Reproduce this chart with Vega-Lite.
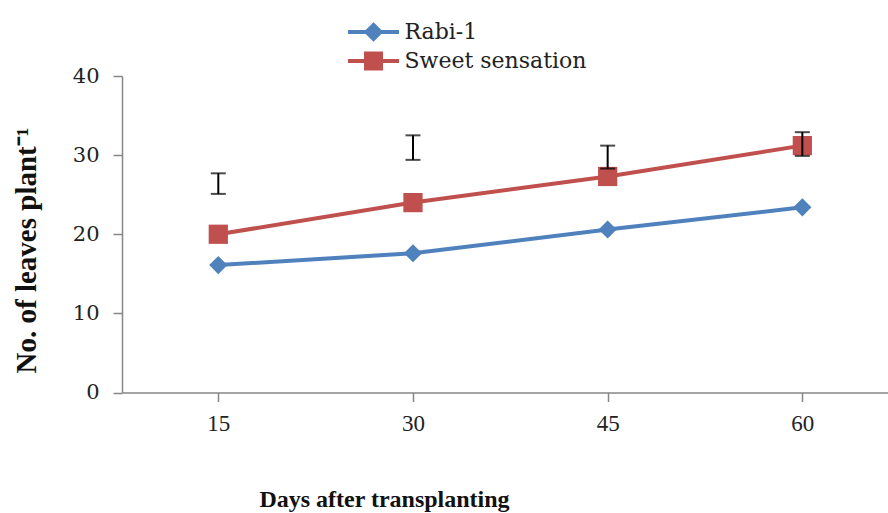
{
  "$schema": "https://vega.github.io/schema/vega-lite/v6.json",
  "autosize": {"type": "none"},
  "padding": {"left": 122, "top": 76, "right": 0, "bottom": 121},
  "width": 766,
  "height": 316.5,
  "background": "white",
  "datasets": {
    "leaves": [
      {"day": 15, "variety": "Rabi-1", "leaves": 16.1},
      {"day": 30, "variety": "Rabi-1", "leaves": 17.6},
      {"day": 45, "variety": "Rabi-1", "leaves": 20.6},
      {"day": 60, "variety": "Rabi-1", "leaves": 23.4},
      {"day": 15, "variety": "Sweet sensation", "leaves": 20.0},
      {"day": 30, "variety": "Sweet sensation", "leaves": 24.0},
      {"day": 45, "variety": "Sweet sensation", "leaves": 27.3},
      {"day": 60, "variety": "Sweet sensation", "leaves": 31.2}
    ],
    "lsd": [
      {"day": 15, "lo": 25.1, "hi": 27.7},
      {"day": 30, "lo": 29.4, "hi": 32.5},
      {"day": 45, "lo": 28.3, "hi": 31.2},
      {"day": 60, "lo": 29.9, "hi": 32.9}
    ]
  },
  "config": {
    "view": {"stroke": null},
    "axis": {
      "grid": false,
      "domainColor": "#868686",
      "domainWidth": 1.5,
      "tickColor": "#868686",
      "tickWidth": 1.5,
      "tickSize": 9,
      "labelColor": "#222222",
      "titleColor": "#111111"
    }
  },
  "layer": [
    {
      "data": {"name": "leaves"},
      "mark": {"type": "line", "strokeWidth": 4},
      "encoding": {
        "x": {
          "field": "day",
          "type": "quantitative",
          "scale": {"domain": [7.58, 66.6], "nice": false, "zero": false},
          "axis": {
            "values": [15, 30, 45, 60],
            "title": "Days after transplanting",
            "titleFont": "Liberation Serif",
            "titleFontSize": 24,
            "titleFontWeight": "bold",
            "titleX": 262,
            "titleY": 114,
            "titleBaseline": "alphabetic",
            "titleAnchor": null,
            "titleAlign": "center",
            "labelFont": "Liberation Serif",
            "labelFontSize": 23,
            "labelPadding": 11
          }
        },
        "y": {
          "field": "leaves",
          "type": "quantitative",
          "scale": {"domain": [0, 40], "nice": false},
          "axis": {
            "values": [0, 10, 20, 30, 40],
            "title": "No. of leaves plant⁻¹",
            "titleFont": "Liberation Serif",
            "titleFontSize": 29,
            "titleFontWeight": "bold",
            "titleX": -96,
            "titleY": 174,
            "titleAngle": -90,
            "titleBaseline": "middle",
            "titleAlign": "center",
            "labelFont": "DejaVu Serif",
            "labelFontSize": 21,
            "labelPadding": 14
          }
        },
        "color": {
          "field": "variety",
          "type": "nominal",
          "scale": {"domain": ["Rabi-1", "Sweet sensation"], "range": ["#4F81BD", "#C0504D"]},
          "legend": {
            "title": null,
            "orient": "none",
            "legendX": 239.5,
            "legendY": -56,
            "padding": 0,
            "symbolSize": 400,
            "rowPadding": -2,
            "labelOffset": 19,
            "labelFont": "DejaVu Serif",
            "labelFontSize": 22,
            "labelColor": "#222222",
            "labelLimit": 400,
            "encode": {
              "symbols": {
                "update": {
                  "shape": {"signal": "datum.value === 'Rabi-1' ? 'M-2.55,0L2.55,0M0,-0.7L0.7,0L0,0.7L-0.7,0Z' : 'M-2.55,0L2.55,0M-0.75,-0.75L0.75,-0.75L0.75,0.75L-0.75,0.75Z'"},
                  "fill": {"scale": "color", "field": "value"},
                  "stroke": {"scale": "color", "field": "value"},
                  "strokeWidth": {"value": 4},
                  "size": {"value": 400},
                  "opacity": {"value": 1},
                  "fillOpacity": {"value": 1}
                }
              }
            }
          }
        }
      }
    },
    {
      "data": {"name": "leaves"},
      "transform": [{"filter": "datum.variety === 'Rabi-1'"}],
      "mark": {"type": "point", "filled": true, "opacity": 1, "shape": "diamond", "size": 330, "color": "#4F81BD"},
      "encoding": {
        "x": {"field": "day", "type": "quantitative"},
        "y": {"field": "leaves", "type": "quantitative"}
      }
    },
    {
      "data": {"name": "leaves"},
      "transform": [{"filter": "datum.variety === 'Sweet sensation'"}],
      "mark": {"type": "point", "filled": true, "opacity": 1, "shape": "square", "size": 370, "color": "#C0504D"},
      "encoding": {
        "x": {"field": "day", "type": "quantitative"},
        "y": {"field": "leaves", "type": "quantitative"}
      }
    },
    {
      "data": {"name": "lsd"},
      "mark": {
        "type": "errorbar",
        "color": "black",
        "ticks": {"size": 15, "thickness": 2, "color": "black"},
        "rule": {"strokeWidth": 2, "color": "black"}
      },
      "encoding": {
        "x": {"field": "day", "type": "quantitative"},
        "y": {"field": "lo", "type": "quantitative", "title": "No. of leaves plant⁻¹"},
        "y2": {"field": "hi"}
      }
    }
  ]
}
